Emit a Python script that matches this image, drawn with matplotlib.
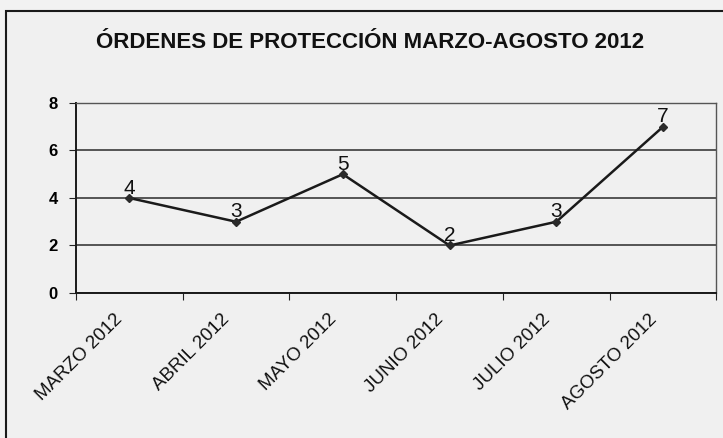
#!/usr/bin/env python3
"""Line chart: órdenes de protección marzo-agosto 2012."""

import matplotlib
matplotlib.use("Agg")
import matplotlib.pyplot as plt
import matplotlib.transforms as mtransforms
from matplotlib.patches import Rectangle

months = ["MARZO 2012", "ABRIL 2012", "MAYO 2012", "JUNIO 2012", "JULIO 2012", "AGOSTO 2012"]
orders = [4, 3, 5, 2, 3, 7]
y_ticks = [0, 2, 4, 6, 8]

plt.rcParams["font.family"] = ["Liberation Sans", "DejaVu Sans"]

fig = plt.figure(figsize=(7.23, 4.38), dpi=100, facecolor="#f2f2f2")
# outer chart frame, cut off at the right and bottom as in the scan
fig.patches.append(Rectangle((0.008, -0.05), 1.1, 1.025, transform=fig.transFigure,
                             facecolor="#f0f0f0", edgecolor="#1a1a1a", linewidth=1.5,
                             zorder=-10))

ax = fig.add_axes([0.105, 0.331, 0.886, 0.434])
ax.set_facecolor("#f0f0f0")

x = list(range(len(months)))
ax.plot(x, orders, color="#1a1a1a", linewidth=1.8, marker="D", markersize=4.5,
        markerfacecolor="#2a2a2a", markeredgecolor="#2a2a2a")
for xi, v in zip(x, orders):
    ax.text(xi, v + 0.02, str(v), ha="center", va="bottom", fontsize=15, color="#111111")

ax.set_xlim(-0.5, len(months) - 0.5)
ax.set_ylim(0, 8)
ax.set_yticks(y_ticks)
ax.set_yticklabels([str(t) for t in y_ticks], fontsize=12, fontweight="bold")
ax.yaxis.grid(True, color="#2a2a2a", linewidth=1.1)
ax.set_axisbelow(True)

# ticks sit between categories; labels are drawn as text below each category
ax.set_xticks([i - 0.5 for i in range(len(months) + 1)])
ax.set_xticklabels([])
label_tr = ax.get_xaxis_transform() + mtransforms.ScaledTranslation(
    -6.5 / 72, -17 / 72, fig.dpi_scale_trans)
for xi, name in zip(x, months):
    ax.text(xi, 0, name, transform=label_tr, rotation=45, ha="right", va="center",
            rotation_mode="anchor", fontsize=13.5, color="#111111", clip_on=False)
ax.tick_params(axis="x", length=5, direction="out", color="#222222")
ax.tick_params(axis="y", length=5, color="#222222", pad=8)

for side in ("top", "right"):
    ax.spines[side].set_color("#555555")
    ax.spines[side].set_linewidth(1.0)
ax.spines["left"].set_color("#1a1a1a")
ax.spines["bottom"].set_color("#1a1a1a")
ax.spines["left"].set_linewidth(1.4)
ax.spines["bottom"].set_linewidth(1.4)

fig.text(0.512, 0.902, "ÓRDENES DE PROTECCIÓN MARZO-AGOSTO 2012", ha="center", va="center",
         fontsize=16, fontweight="bold", color="#111111")

fig.savefig("out.png", dpi=100, facecolor=fig.get_facecolor())
